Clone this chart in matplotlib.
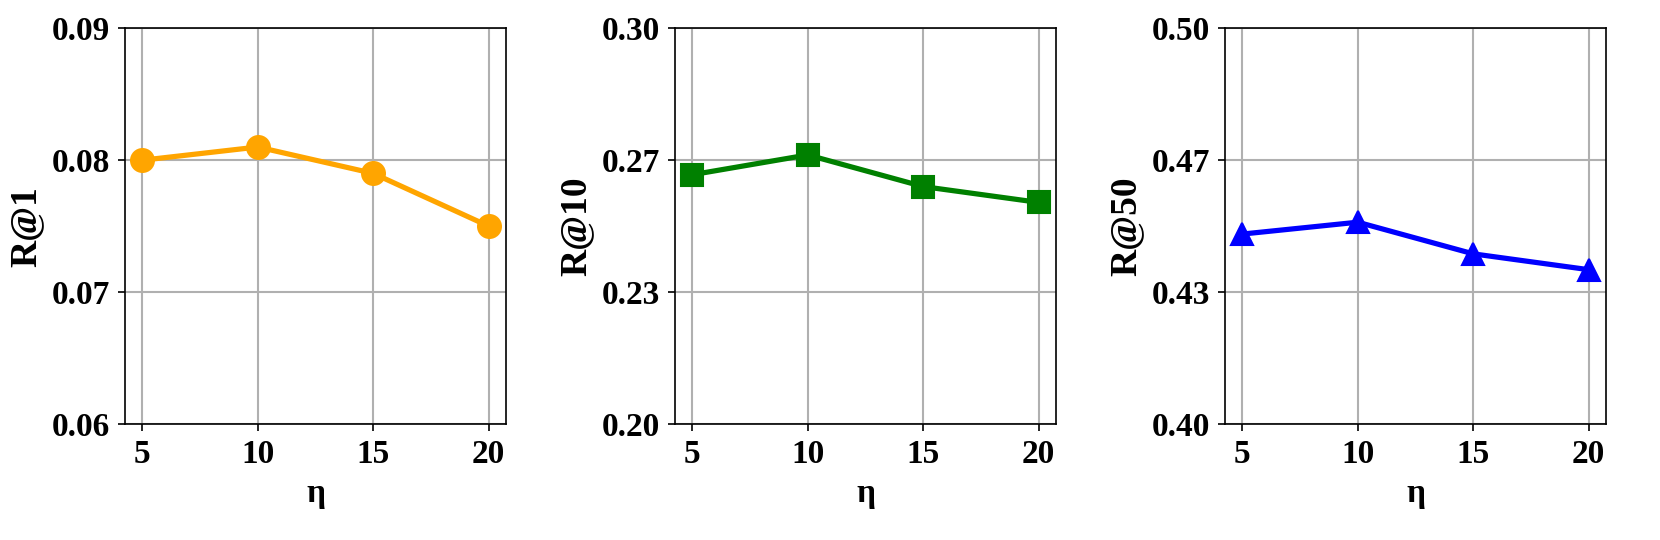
import matplotlib
matplotlib.use("Agg")
import matplotlib.pyplot as plt
import numpy as np
from matplotlib.ticker import FormatStrFormatter

plt.rcParams['font.family'] = ['Liberation Serif', 'DejaVu Serif']
plt.rcParams['font.weight'] = 'bold'

eta = [5, 10, 15, 20]
r1 = [0.080, 0.081, 0.079, 0.075]
r10 = [0.263, 0.268, 0.260, 0.256]
r50 = [0.448, 0.451, 0.443, 0.439]

series = [
    (r1, 'R@1', 'orange', 'o', (0.06, 0.09)),
    (r10, 'R@10', 'green', 's', (0.20, 0.30)),
    (r50, 'R@50', 'blue', '^', (0.40, 0.50)),
]

fig = plt.figure(figsize=(1660/150, 540/150), dpi=150)
lefts = [125/1660, 675/1660, 1225/1660]
for (vals, lab, col, mk, lim), l in zip(series, lefts):
    ax = fig.add_axes([l, 1-424/540, 381/1660, (424-28.3)/540])
    ax.plot(eta, vals, color=col, marker=mk, linewidth=2.5, markersize=11, zorder=3)
    ax.set_ylim(*lim)
    ax.set_yticks(np.linspace(lim[0], lim[1], 4))
    ax.yaxis.set_major_formatter(FormatStrFormatter('%.2f'))
    ax.set_xticks(eta)
    ax.grid(True, color='#b0b0b0', linewidth=1)
    ax.set_axisbelow(True)
    ax.set_xlabel('η', fontsize=16, fontweight='bold')
    ax.set_ylabel(lab, fontsize=18, fontweight='bold')
    ax.tick_params(labelsize=16)
    for t in ax.get_xticklabels() + ax.get_yticklabels():
        t.set_fontweight('bold')

fig.savefig('out.png', dpi=150)
